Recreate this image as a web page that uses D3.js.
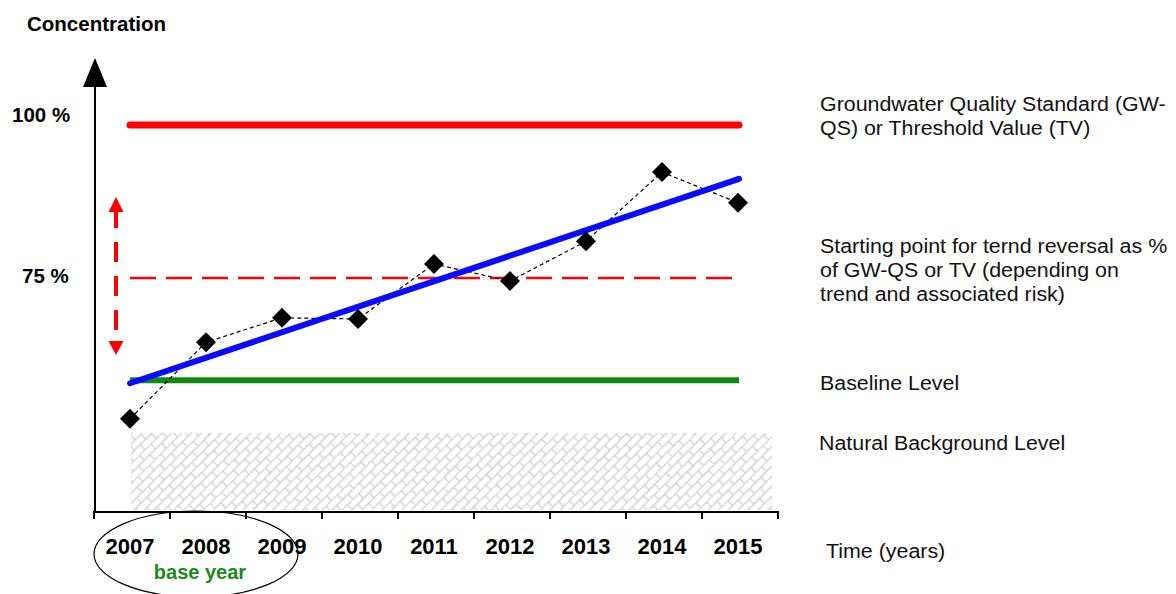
<!DOCTYPE html>
<html><head><meta charset="utf-8">
<script src="https://cdn.jsdelivr.net/npm/d3@7"></script>
<style>body{margin:0;background:#fff}svg{display:block;font-family:Arial,"Liberation Sans",sans-serif}</style>
</head><body><svg id="c" width="1176" height="594"></svg>
<script>
const years = ["2007","2008","2009","2010","2011","2012","2013","2014","2015"];
const concentration = [52.0, 64.5, 68.5, 68.3, 77.3, 74.5, 81.0, 92.3, 87.3];
const trendEnds = [57.8, 91.2];
const qualityStandard = 100;
const trendReversal = 75;
const baselineLevel = 58.3;
const backgroundLevel = 49.7;
const yTickLabels = [{v:100, t:"100 %"},{v:75, t:"75 %"}];
const rightLabels = [
  {v:100, lines:["Groundwater Quality Standard (GW-","QS) or Threshold Value (TV)"], dy:-14},
  {v:75, lines:["Starting point for ternd reversal as %","of GW-QS or TV (depending on","trend and associated risk)"], dy:-25},
  {v:58.3, lines:["Baseline Level"], dy:10},
  {v:49.7, lines:["Natural Background Level"], dy:17}
];

const svg = d3.select("#c");
const x = d3.scaleBand().domain(years).range([94, 778]);
const y = d3.scaleLinear().domain([75, 100]).range([278, 125]);
const yBottom = 512, yAxisX = 95;
const cx = d => x(d) + x.bandwidth()/2 - 2;
const xStart = cx(years[0]), xEnd = cx(years[years.length-1]) + 1;

// hatch pattern
const defs = svg.append("defs");
const pat = defs.append("pattern").attr("id","brick").attr("patternUnits","userSpaceOnUse")
  .attr("width",16).attr("height",14).attr("patternTransform","rotate(-45)");
pat.append("rect").attr("width",16).attr("height",14).attr("fill","#fff");
pat.append("path").attr("d","M0,0.5H16 M0,7.5H16 M0.5,0V7 M8.5,7V14")
  .attr("stroke","#d2d2d2").attr("stroke-width",1.4).attr("fill","none");

svg.append("rect").attr("x", xStart + 1).attr("y", y(backgroundLevel))
  .attr("width", 772 - xStart - 1).attr("height", yBottom - 2 - y(backgroundLevel))
  .attr("fill","url(#brick)");

// y axis with arrow
svg.append("line").attr("x1",yAxisX).attr("x2",yAxisX).attr("y1",84).attr("y2",yBottom+1)
  .attr("stroke","#000").attr("stroke-width",2);
svg.append("path").attr("d",`M${yAxisX},58 L${yAxisX-12},87 L${yAxisX+12},87 Z`).attr("fill","#000");

// x axis
svg.append("line").attr("x1",93).attr("x2",779).attr("y1",yBottom).attr("y2",yBottom)
  .attr("stroke","#000").attr("stroke-width",2);
const tickPos = years.map(d => x(d)).concat([x.range()[1]]);
svg.selectAll(".tk").data(tickPos).join("line").attr("class","tk")
  .attr("x1",d=>d).attr("x2",d=>d).attr("y1",yBottom).attr("y2",yBottom+7)
  .attr("stroke","#000").attr("stroke-width",2);
svg.selectAll(".yl").data(years).join("text").attr("class","yl")
  .attr("x", d => cx(d)).attr("y", 554).attr("text-anchor","middle")
  .attr("font-weight","bold").attr("font-size",22).text(d=>d);

// ellipse + base year
svg.append("ellipse").attr("cx",196).attr("cy",554).attr("rx",102).attr("ry",43)
  .attr("fill","none").attr("stroke","#000").attr("stroke-width",1.2);
svg.append("text").attr("x",200).attr("y",579).attr("text-anchor","middle")
  .attr("font-weight","bold").attr("font-size",20).attr("fill","#1b8a1b").text("base year");

// horizontal reference lines
svg.append("line").attr("x1",xStart).attr("x2",xEnd).attr("y1",y(qualityStandard)).attr("y2",y(qualityStandard))
  .attr("stroke","#f00").attr("stroke-width",7).attr("stroke-linecap","round");
svg.append("line").attr("x1",xStart).attr("x2",xEnd).attr("y1",y(trendReversal)).attr("y2",y(trendReversal))
  .attr("stroke","#f00").attr("stroke-width",2.5).attr("stroke-dasharray","26,10");
svg.append("line").attr("x1",xStart).attr("x2",xEnd).attr("y1",y(baselineLevel)).attr("y2",y(baselineLevel))
  .attr("stroke","#118811").attr("stroke-width",6);

// red double arrow
const ax = 116;
svg.append("line").attr("x1",ax).attr("x2",ax).attr("y1",212).attr("y2",341)
  .attr("stroke","#f00").attr("stroke-width",4).attr("stroke-dasharray","16,14,20,14,20,14,20,14");
svg.append("path").attr("d",`M${ax},197 L${ax-7.5},212 L${ax+7.5},212 Z`).attr("fill","#f00");
svg.append("path").attr("d",`M${ax},355 L${ax-7.5},341 L${ax+7.5},341 Z`).attr("fill","#f00");

// dashed data line
const line = d3.line().x((d,i)=>cx(years[i])).y(d=>y(d));
svg.append("path").attr("d", line(concentration)).attr("fill","none")
  .attr("stroke","#000").attr("stroke-width",1.2).attr("stroke-dasharray","4,3");

// trend line
svg.append("line").attr("x1",xStart).attr("x2",xEnd).attr("y1",y(trendEnds[0])).attr("y2",y(trendEnds[1]))
  .attr("stroke","#0a0aff").attr("stroke-width",6).attr("stroke-linecap","round");

// markers
const sym = d3.symbol().type(d3.symbolSquare).size(200);
svg.selectAll(".m").data(concentration).join("path").attr("class","m")
  .attr("d", sym).attr("fill","#000")
  .attr("transform",(d,i)=>`translate(${cx(years[i])},${y(d)}) rotate(45)`);

// labels
svg.append("text").attr("x",27).attr("y",31).attr("font-weight","bold").attr("font-size",20.5).text("Concentration");
svg.selectAll(".ytl").data(yTickLabels).join("text").attr("class","ytl")
  .attr("x",d=>d.v===100?12:22).attr("y",d=>d.v===100?122:283).attr("font-weight","bold").attr("font-size",20.5).text(d=>d.t);

const sx = 1.07;
rightLabels.forEach(r => {
  const x0 = r.v===49.7?819:820;
  const g = svg.append("g").attr("transform",`translate(${x0},0) scale(${sx},1)`);
  const t = g.append("text").attr("font-size",20).attr("fill","#111");
  r.lines.forEach((l,i) => t.append("tspan").attr("x", 0)
    .attr("y", y(r.v) + r.dy + i*24).text(l));
});
svg.append("g").attr("transform",`translate(826,0) scale(${sx},1)`)
  .append("text").attr("y",558).attr("font-size",20).attr("fill","#111").text("Time (years)");
</script></body></html>
